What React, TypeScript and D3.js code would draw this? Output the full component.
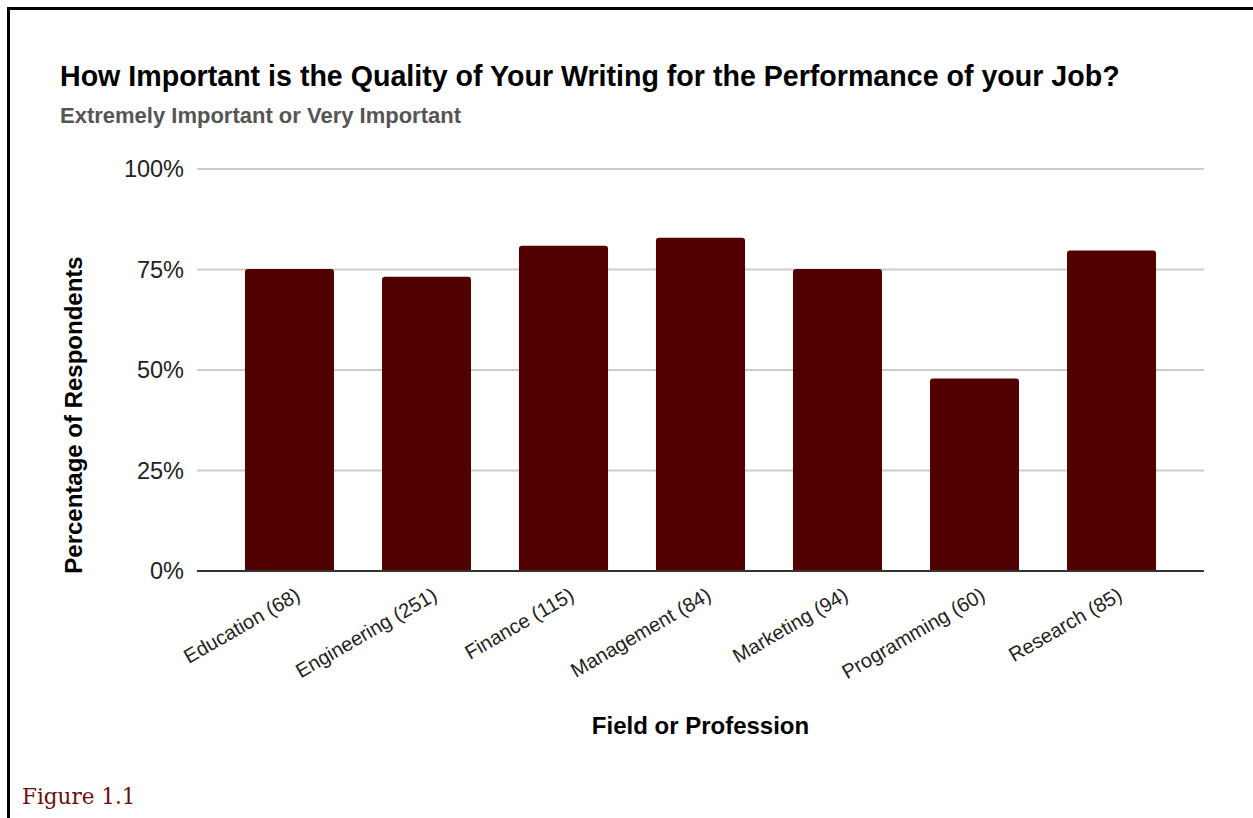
import React, { useEffect, useRef } from "react";
import * as d3 from "d3";

const categories = [
  "Education (68)",
  "Engineering (251)",
  "Finance (115)",
  "Management (84)",
  "Marketing (94)",
  "Programming (60)",
  "Research (85)",
];
const values = [75.1, 73.2, 80.9, 82.9, 75.1, 47.9, 79.7];
const yTicks = [0, 25, 50, 75, 100];

const W = 1253;
const H = 818;
const left = 197;
const right = 1204;
const top = 169;
const bottom = 571;
const font = "'Liberation Sans', Arial, sans-serif";

export default function App() {
  const ref = useRef<SVGSVGElement>(null);

  useEffect(() => {
    const svg = d3.select(ref.current);
    svg.selectAll("*").remove();

    const x = d3
      .scaleBand<string>()
      .domain(categories)
      .range([left, right])
      .paddingInner(0.35)
      .paddingOuter(0.35);
    const y = d3.scaleLinear().domain([0, 100]).range([bottom, top]);

    // frame
    svg
      .append("path")
      .attr("d", `M8.5,${H} V8.5 H${W}`)
      .attr("fill", "none")
      .attr("stroke", "#000")
      .attr("stroke-width", 3);

    // titles
    svg
      .append("text")
      .attr("x", 60)
      .attr("y", 86)
      .attr("font-family", font)
      .attr("font-weight", "bold")
      .attr("font-size", 28.6)
      .attr("fill", "#000")
      .text("How Important is the Quality of Your Writing for the Performance of your Job?");
    svg
      .append("text")
      .attr("x", 60)
      .attr("y", 123)
      .attr("font-family", font)
      .attr("font-weight", "bold")
      .attr("font-size", 22)
      .attr("fill", "#555")
      .text("Extremely Important or Very Important");

    // gridlines + y labels
    const g = svg.append("g");
    yTicks.forEach((t) => {
      if (t > 0) {
        g.append("line")
          .attr("x1", left)
          .attr("x2", right)
          .attr("y1", y(t))
          .attr("y2", y(t))
          .attr("stroke", "#ccc")
          .attr("stroke-width", 2);
      }
      g.append("text")
        .attr("x", 184)
        .attr("y", y(t))
        .attr("dy", "0.35em")
        .attr("text-anchor", "end")
        .attr("font-family", font)
        .attr("font-size", 23.5)
        .attr("fill", "#222")
        .text(`${t}%`);
    });

    // bars with rounded tops
    const r = 3;
    svg
      .append("g")
      .selectAll("path")
      .data(values)
      .join("path")
      .attr("fill", "#510000")
      .attr("d", (v, i) => {
        const x0 = x(categories[i])!;
        const w = x.bandwidth();
        const y0 = y(v);
        const yb = y(0);
        return `M${x0},${yb} V${y0 + r} Q${x0},${y0} ${x0 + r},${y0} H${x0 + w - r} Q${x0 + w},${y0} ${x0 + w},${y0 + r} V${yb} Z`;
      });

    // baseline
    svg
      .append("line")
      .attr("x1", left)
      .attr("x2", right)
      .attr("y1", y(0))
      .attr("y2", y(0))
      .attr("stroke", "#333")
      .attr("stroke-width", 2);

    // x labels
    svg
      .append("g")
      .selectAll("text")
      .data(categories)
      .join("text")
      .attr("transform", (c) => `translate(${x(c)! + x.bandwidth() / 2 + 12},${599}) rotate(-30)`)
      .attr("text-anchor", "end")
      .attr("font-family", font)
      .attr("font-size", 20)
      .attr("fill", "#222")
      .text((c) => c);

    // axis titles
    svg
      .append("text")
      .attr("x", (left + right) / 2)
      .attr("y", 734)
      .attr("text-anchor", "middle")
      .attr("font-family", font)
      .attr("font-weight", "bold")
      .attr("font-size", 24)
      .attr("fill", "#000")
      .text("Field or Profession");
    svg
      .append("text")
      .attr("transform", `translate(82,415) rotate(-90)`)
      .attr("text-anchor", "middle")
      .attr("font-family", font)
      .attr("font-weight", "bold")
      .attr("font-size", 24)
      .attr("fill", "#000")
      .text("Percentage of Respondents");

    // caption
    svg
      .append("text")
      .attr("x", 22)
      .attr("y", 804)
      .attr("font-family", "'DejaVu Serif', Georgia, serif")
      .attr("font-size", 21.5)
      .attr("fill", "#6b1010")
      .text("Figure 1.1");
  }, []);

  return (
    <svg
      ref={ref}
      width={W}
      height={H}
      style={{ position: "absolute", left: 0, top: 0, background: "#fff" }}
    />
  );
}
